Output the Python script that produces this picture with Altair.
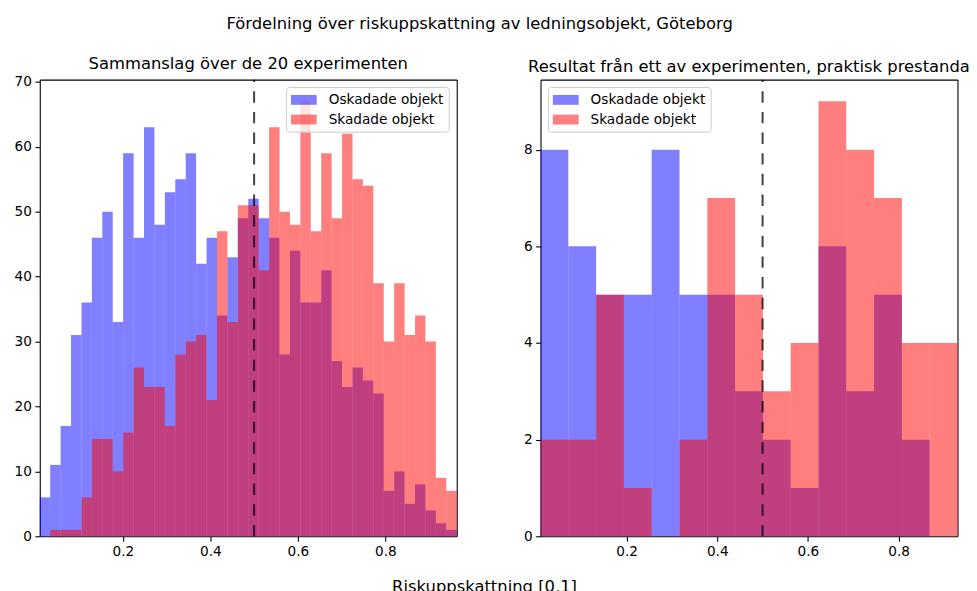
import altair as alt
import numpy as np
import pandas as pd

SERIES = ["Oskadade objekt", "Skadade objekt"]
COLORS = ["#0000ff", "#ff0000"]

# Left panel: 40 bins
LEFT_RANGE = [0.0102, 0.963]
left_blue = [6, 11, 17, 31, 36, 46, 50, 33, 59, 46,
             63, 48, 53, 55, 59, 42, 46, 34, 43, 49,
             52, 49, 46, 28, 44, 36, 36, 41, 27, 23,
             26, 24, 22, 7, 10, 5, 8, 4, 2, 1]
left_red = [0, 1, 1, 1, 6, 15, 15, 10, 16, 26,
            23, 23, 17, 28, 30, 31, 21, 47, 33, 51,
            51, 41, 63, 50, 48, 67, 47, 59, 49, 62,
            55, 54, 39, 30, 39, 31, 34, 30, 9, 7]

# Right panel: 15 bins
RIGHT_RANGE = [0.0101, 0.930]
right_blue = [8, 6, 5, 5, 8, 5, 5, 3, 2, 1, 6, 3, 5, 2, 0]
right_red = [2, 2, 5, 1, 0, 2, 7, 5, 3, 4, 9, 8, 7, 4, 4]

LEFT_YMAX = 70.35
RIGHT_YMAX = 9.45
LEFT_Y_TICKS = [0, 10, 20, 30, 40, 50, 60, 70]
RIGHT_Y_TICKS = [0, 2, 4, 6, 8]
X_TICKS = [0.2, 0.4, 0.6, 0.8]
THRESHOLD = 0.5

SUPTITLE = "Fördelning över riskuppskattning av ledningsobjekt, Göteborg"
LEFT_TITLE = "Sammanslag över de 20 experimenten"
RIGHT_TITLE = "Resultat från ett av experimenten, praktisk prestanda"
XLABEL = "Riskuppskattning [0,1]"

FONT = "DejaVu Sans"
TICK_FS = 13.75
TITLE_FS = 16.5
W, H = 420, 460


def hist_frame(rng, blue, red):
    edges = np.linspace(rng[0], rng[1], len(blue) + 1)
    rows = []
    for name, counts in zip(SERIES, [blue, red]):
        for i, c in enumerate(counts):
            rows.append({"x0": edges[i], "x1": edges[i + 1], "count": c, "serie": name})
    return pd.DataFrame(rows)


PATCH = "M-1,-0.62L2.25,-0.62L2.25,0.62L-1,0.62Z"
EDGE = dict(domain=True, domainColor="black", domainWidth=1.1)


def panel(rng, blue, red, ymax, yticks, title, legend_x, yextent, xaxis_title=None):
    df = hist_frame(rng, blue, red)
    xaxis_kwargs = dict(values=X_TICKS, format=".1f", grid=False, **EDGE,
                        labelFont=FONT, labelFontSize=TICK_FS, labelColor="black",
                        tickColor="black", tickSize=4.9, tickWidth=1.1, labelPadding=3.5)
    if xaxis_title:
        xaxis_kwargs.update(title=xaxis_title, titleFont=FONT, titleFontSize=TITLE_FS,
                            titleFontWeight="normal", titleColor="black",
                            titleX=447.5, titleY=56, titleAlign="center",
                            titleBaseline="alphabetic", titleAnchor="start")
    else:
        xaxis_kwargs.update(title="")
    xs = alt.Scale(domain=rng, nice=False, zero=False)
    ys = alt.Scale(domain=[0, ymax], nice=False)
    bars = alt.Chart(df).mark_rect(opacity=0.5, strokeWidth=0).encode(
        x=alt.X("x0:Q", scale=xs, axis=alt.Axis(**xaxis_kwargs)),
        x2="x1:Q",
        y=alt.Y("count:Q", scale=ys,
                axis=alt.Axis(values=yticks, title="", grid=False, **EDGE,
                              labelFont=FONT, labelFontSize=TICK_FS, labelColor="black",
                              tickColor="black", tickSize=4.9, tickWidth=1.1,
                              labelPadding=3.5, minExtent=yextent, maxExtent=yextent)),
        y2=alt.datum(0),
        color=alt.Color("serie:N",
                        scale=alt.Scale(domain=SERIES, range=COLORS),
                        legend=alt.Legend(title=None, orient="none",
                                          legendX=legend_x, legendY=7.4,
                                          symbolType=PATCH, symbolSize=256,
                                          symbolOpacity=0.5, symbolStrokeWidth=0,
                                          labelFont=FONT, labelFontSize=TICK_FS,
                                          labelColor="black", labelOffset=22,
                                          padding=5, rowPadding=4.8,
                                          fillColor="rgba(255,255,255,0.8)",
                                          strokeColor="#cccccc", cornerRadius=3)),
    )
    rule = alt.Chart(pd.DataFrame({"x": [THRESHOLD]})).mark_rule(
        color="black", opacity=0.75, strokeWidth=2, strokeDash=[11.5, 9.3]
    ).encode(x=alt.X("x:Q", scale=xs, axis=None), y=alt.value(H), y2=alt.value(0))
    # top and right edges of the box, drawn as bare axis lines
    box = alt.Chart(pd.DataFrame({"x": [rng[0]], "y": [0]})).mark_point(opacity=0).encode(
        x=alt.X("x:Q", scale=xs,
                axis=alt.Axis(orient="top", labels=False, ticks=False, grid=False,
                              title="", minExtent=0, maxExtent=0, **EDGE)),
        y=alt.Y("y:Q", scale=ys,
                axis=alt.Axis(orient="right", labels=False, ticks=False, grid=False,
                              title="", minExtent=0, maxExtent=0, **EDGE)),
    )
    return alt.layer(bars, rule, box).resolve_axis(x="independent", y="independent").properties(
        width=W, height=H,
        title=alt.TitleParams(title, font=FONT, fontSize=TITLE_FS, fontWeight="normal",
                              color="black", anchor="middle", offset=-10.1,
                              baseline="alphabetic"),
    )


left = panel(LEFT_RANGE, left_blue, left_red, LEFT_YMAX, LEFT_Y_TICKS, LEFT_TITLE,
             248, 27, XLABEL)
right = panel(RIGHT_RANGE, right_blue, right_red, RIGHT_YMAX, RIGHT_Y_TICKS, RIGHT_TITLE,
              7.4, 18)

chart = alt.hconcat(left, right, spacing=84.4, bounds="flush").resolve_scale(
    color="independent"
).resolve_legend(color="independent").properties(
    title=alt.TitleParams(SUPTITLE, font=FONT, fontSize=TITLE_FS, fontWeight="normal",
                          color="black", anchor="start", frame="group", dx=188,
                          offset=10.4, baseline="alphabetic"),
    padding={"left": 5, "top": 5, "right": -1, "bottom": 0},
).configure_view(stroke=None)

chart.save("out.html", embed_options={"renderer": "svg", "actions": False})
